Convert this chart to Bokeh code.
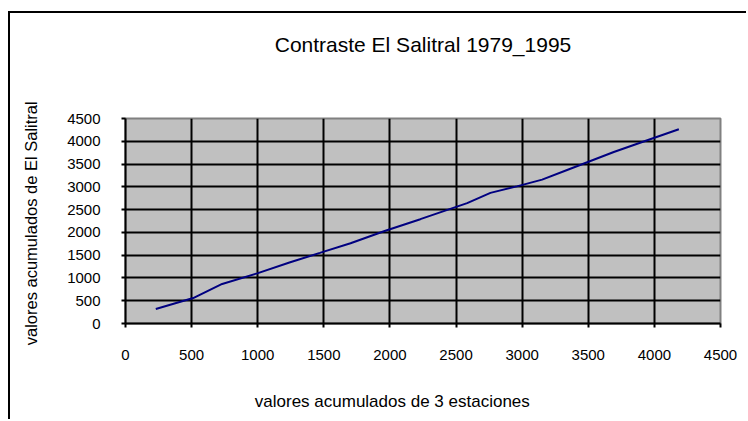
from bokeh.plotting import figure
from bokeh.models import FixedTicker, Range1d, Title
from bokeh.embed import file_html
from bokeh.resources import INLINE

# cumulative values
acum_3_estaciones = [229, 512, 731, 996, 1240, 1470, 1702, 1960, 2230, 2584,
                     2760, 2960, 3151, 3340, 3693, 3930, 4185]
acum_el_salitral = [317, 559, 868, 1101, 1340, 1550, 1762, 2030, 2290, 2642,
                    2867, 3010, 3158, 3370, 3765, 4005, 4265]
x_ticks = [0, 500, 1000, 1500, 2000, 2500, 3000, 3500, 4000, 4500]
y_ticks = [0, 500, 1000, 1500, 2000, 2500, 3000, 3500, 4000, 4500]
grid_x = [500, 1000, 1500, 2000, 2500, 3000, 3500, 4000]
grid_y = [500, 1000, 1500, 2000, 2500, 3000, 3500, 4000]
title_text = "Contraste El Salitral 1979_1995"
x_label = "valores acumulados  de 3 estaciones"
y_label = "valores acumulados  de El Salitral"

FONT = "Liberation Sans"

p = figure(width=738, height=408, output_backend="svg", toolbar_location=None,
           x_range=Range1d(0, 4500), y_range=Range1d(0, 4500),
           min_border_left=115, min_border_right=28,
           min_border_top=105, min_border_bottom=98)
p.styles = {"border-left": "2px solid #000", "border-top": "2px solid #000",
            "margin-top": "11px", "margin-left": "8px"}

p.background_fill_color = "#C0C0C0"
p.border_fill_color = "white"
p.outline_line_color = "#808080"
p.outline_line_width = 2

p.line(acum_3_estaciones, acum_el_salitral, line_color="#000080", line_width=2)

for ax, ticks in ((p.xaxis[0], x_ticks), (p.yaxis[0], y_ticks)):
    ax.ticker = FixedTicker(ticks=ticks)
    ax.minor_tick_line_color = None
    ax.major_tick_in = 0
    ax.major_tick_out = 4
    ax.major_tick_line_width = 2
    ax.major_tick_line_color = "black"
    ax.axis_line_width = 2
    ax.axis_line_color = "black"
    ax.major_label_text_font = FONT
    ax.major_label_text_font_size = "15px"
    ax.major_label_text_color = "black"
    ax.axis_label_text_font = FONT
    ax.axis_label_text_font_style = "normal"
    ax.axis_label_text_color = "black"

p.yaxis[0].axis_label = y_label
p.yaxis[0].axis_label_text_font_size = "16.5px"
# x title sits left of the plot centre in the original: pad it on the right
p.xaxis[0].axis_label = x_label + "\u00a0" * 12
p.xaxis[0].axis_label_text_font_size = "17px"
p.xaxis[0].major_label_standoff = 22
p.yaxis[0].major_label_standoff = 21
p.xaxis[0].axis_label_standoff = 29
p.yaxis[0].axis_label_standoff = 24

# spacer (closest to the plot) and then the chart title above it
spacer = Title(text="\u00a0", text_font_size="1px", standoff=42)
p.add_layout(spacer, "above")
title = Title(text=title_text, text_font=FONT, text_font_size="21px",
              text_font_style="normal", text_color="black", align="center",
              vertical_align="middle", standoff=34)
p.add_layout(title, "above")

p.xgrid[0].ticker = FixedTicker(ticks=grid_x)
p.ygrid[0].ticker = FixedTicker(ticks=grid_y)
for g in (p.xgrid[0], p.ygrid[0]):
    g.grid_line_color = "black"
    g.grid_line_width = 2

open("out.html", "w").write(file_html(p, INLINE))
